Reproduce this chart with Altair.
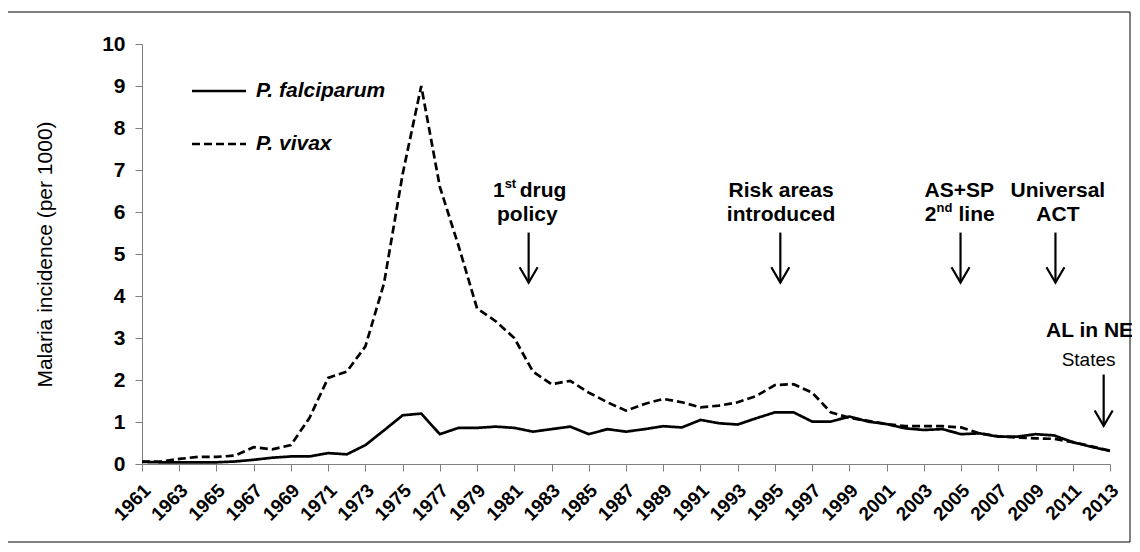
import altair as alt
import pandas as pd

# ---------------- data ----------------
years = list(range(1961, 2014))
falciparum = [0.05, 0.04, 0.04, 0.04, 0.04, 0.06, 0.10, 0.15, 0.18, 0.18,
              0.26, 0.23, 0.45, 0.80, 1.16, 1.20, 0.71, 0.86, 0.86, 0.89,
              0.86, 0.77, 0.83, 0.89, 0.71, 0.83, 0.77, 0.83, 0.90, 0.87,
              1.05, 0.97, 0.94, 1.09, 1.23, 1.23, 1.01, 1.01, 1.13, 1.01,
              0.95, 0.85, 0.81, 0.83, 0.71, 0.73, 0.65, 0.65, 0.71, 0.68,
              0.52, 0.41, 0.31]
vivax = [0.06, 0.06, 0.12, 0.17, 0.17, 0.20, 0.40, 0.35, 0.45, 1.10,
         2.05, 2.20, 2.80, 4.30, 6.90, 9.00, 6.60, 5.20, 3.70, 3.40,
         3.00, 2.20, 1.90, 1.98, 1.70, 1.47, 1.27, 1.43, 1.55, 1.47,
         1.35, 1.39, 1.47, 1.62, 1.88, 1.90, 1.70, 1.23, 1.10, 1.03,
         0.95, 0.90, 0.90, 0.90, 0.87, 0.73, 0.66, 0.63, 0.61, 0.60,
         0.52, 0.42, 0.32]
series_names = ["P. falciparum", "P. vivax"]
x_tick_years = list(range(1961, 2014, 2))
y_ticks = list(range(0, 11))
y_title = "Malaria incidence (per 1000)"

# annotation texts (centred lines)
ann_text = ["policy", "Risk areas", "introduced", "AS+SP", "Universal", "ACT", "AL in NE"]
ann_year = [1981.7, 1995.33, 1995.33, 2004.9, 2010.2, 2010.2, 2011.9]
ann_value = [5.94, 6.49, 5.94, 6.49, 6.49, 5.94, 3.16]
small_text = ["States"]
small_year = [2011.85]
small_value = [2.48]
# pieces with superscripts: "1st drug", "2nd line"
base_digit = ["1", "2"]
sup_text = ["st", "nd"]
tail_text = ["drug", "line"]
sup_year = [1981.77, 2004.97]
sup_value = [6.49, 5.94]
# arrows
arrow_year = [1981.77, 1995.29, 2004.97, 2010.07, 2012.66]
arrow_top = [5.51, 5.51, 5.51, 5.51, 2.13]
arrow_tip = [4.32, 4.32, 4.32, 4.32, 0.91]

FONT = "Liberation Sans"

# ---------------- tables ----------------
lines_df = pd.DataFrame({
    "year": years * 2,
    "value": falciparum + vivax,
    "series": [series_names[0]] * len(years) + [series_names[1]] * len(years),
})
ann_df = pd.DataFrame({"text": ann_text, "year": ann_year, "value": ann_value})
small_df = pd.DataFrame({"text": small_text, "year": small_year, "value": small_value})
sup_df = pd.DataFrame({"digit": base_digit, "sup": sup_text, "tail": tail_text,
                       "year": sup_year, "value": sup_value})
arrow_df = pd.DataFrame({"year": arrow_year, "top": arrow_top, "tip": arrow_tip})
legend_df = pd.DataFrame({"label": series_names})

W, H = 968, 420

xscale = alt.Scale(domain=[1961, 2013], nice=False, zero=False)
yscale = alt.Scale(domain=[0, 10], nice=False)

x_axis = alt.Axis(values=x_tick_years, format="d", labelAngle=-45,
                  labelAlign="right", labelBaseline="middle",
                  labelFontSize=19, labelFontWeight="bold", labelPadding=16, labelOffset=5,
                  tickSize=7, grid=False, title=None,
                  labelOverlap=False, labelFlush=False)
y_axis = alt.Axis(values=y_ticks, labelFontSize=21, labelFontWeight="bold", tickSize=7,
                  labelPadding=10, grid=False, title=y_title,
                  titleFontSize=21, titleFontWeight="normal", titlePadding=46)


def X(field):
    return alt.X(field, scale=xscale, axis=x_axis)


def Y(field):
    return alt.Y(field, scale=yscale, axis=y_axis)


lines = alt.Chart(lines_df).mark_line(color="black", strokeWidth=2.7).encode(
    x=X("year:Q"),
    y=Y("value:Q"),
    strokeDash=alt.StrokeDash("series:N",
                              scale=alt.Scale(domain=series_names, range=[[1, 0], [8, 4]]),
                              legend=None),
    detail="series:N",
)

txt_main = alt.Chart(ann_df).mark_text(fontSize=21, fontWeight="bold", align="center",
                                        baseline="middle", color="black").encode(
    x=X("year:Q"), y=Y("value:Q"), text="text:N")
txt_small = alt.Chart(small_df).mark_text(fontSize=19, align="center", baseline="middle",
                                           color="black").encode(
    x=X("year:Q"), y=Y("value:Q"), text="text:N")
txt_digit = alt.Chart(sup_df).mark_text(fontSize=21, fontWeight="bold", align="right",
                                         baseline="middle", dx=-24, color="black").encode(
    x=X("year:Q"), y=Y("value:Q"), text="digit:N")
txt_sup = alt.Chart(sup_df).mark_text(fontSize=13, fontWeight="bold", align="left",
                                       baseline="middle", dx=-24, dy=-7, color="black").encode(
    x=X("year:Q"), y=Y("value:Q"), text="sup:N")
txt_tail1 = alt.Chart(sup_df).transform_filter(alt.datum.tail == tail_text[0]).mark_text(
    fontSize=21, fontWeight="bold", align="left", baseline="middle", dx=-9,
    color="black").encode(x=X("year:Q"), y=Y("value:Q"), text="tail:N")
txt_tail2 = alt.Chart(sup_df).transform_filter(alt.datum.tail == tail_text[1]).mark_text(
    fontSize=21, fontWeight="bold", align="left", baseline="middle", dx=-2,
    color="black").encode(x=X("year:Q"), y=Y("value:Q"), text="tail:N")

shafts = alt.Chart(arrow_df).mark_rule(color="black", strokeWidth=2.2).encode(
    x=X("year:Q"), y=Y("top:Q"), y2="tip:Q")
heads = alt.Chart(arrow_df).mark_point(
    shape="M-1,-1.7L0,0L1,-1.7", size=324, filled=False, color="black",
    strokeWidth=2.2, opacity=1, strokeJoin="miter").encode(
    x=X("year:Q"), y=Y("tip:Q"))

# manual legend
leg_solid = alt.Chart(legend_df.iloc[[0]]).mark_rule(color="black", strokeWidth=2.7).encode(
    x=alt.value(50), x2=alt.value(104), y=alt.value(47))
leg_dash = alt.Chart(legend_df.iloc[[1]]).mark_rule(color="black", strokeWidth=2.7,
                                                    strokeDash=[8, 4]).encode(
    x=alt.value(50), x2=alt.value(104), y=alt.value(100))
leg_t1 = alt.Chart(legend_df.iloc[[0]]).mark_text(fontSize=21, fontStyle="italic",
                                                  fontWeight="bold", align="left",
                                                  baseline="middle", color="black").encode(
    x=alt.value(114), y=alt.value(47), text="label:N")
leg_t2 = alt.Chart(legend_df.iloc[[1]]).mark_text(fontSize=21, fontStyle="italic",
                                                  fontWeight="bold", align="left",
                                                  baseline="middle", color="black").encode(
    x=alt.value(114), y=alt.value(100), text="label:N")

frame = alt.Chart(pd.DataFrame({"k": [0]})).mark_rect(
    filled=False, fillOpacity=0, stroke="black", strokeWidth=1).encode(
    x=alt.value(-135), x2=alt.value(988), y=alt.value(-32), y2=alt.value(498))

chart = alt.layer(
    frame, lines, txt_main, txt_small, txt_digit, txt_sup, txt_tail1, txt_tail2, shafts, heads,
    leg_solid, leg_dash, leg_t1, leg_t2,
).properties(
    width=W, height=H,
    autosize=alt.AutoSizeParams(type="none"),
    padding={"left": 134, "top": 36, "right": 22, "bottom": 80},
    background="white",
).configure_view(stroke=None).configure_axis(
    domainColor="#808080", tickColor="#808080", labelColor="black", titleColor="black",
    labelFont=FONT, titleFont=FONT, domainWidth=1, tickWidth=1,
).configure_text(font=FONT)

chart.save("out.html", embed_options={"renderer": "svg", "actions": False})
